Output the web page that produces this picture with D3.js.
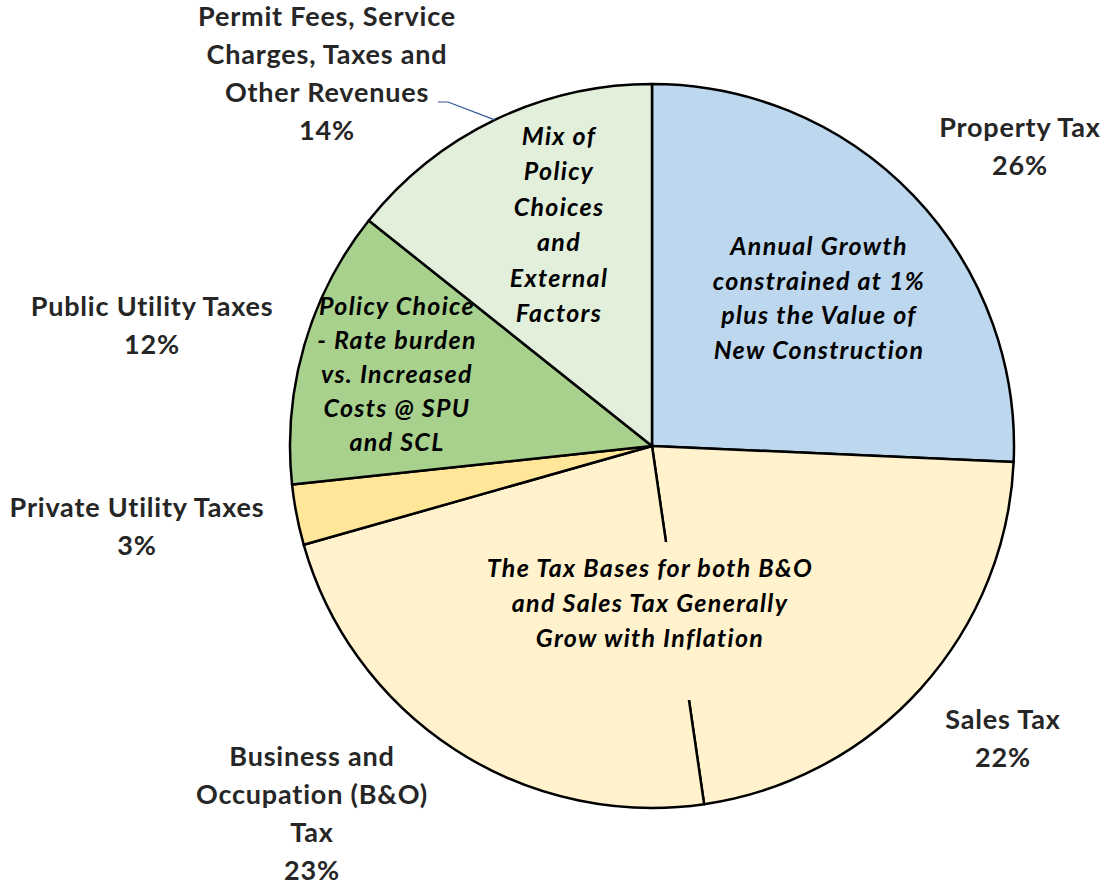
<!DOCTYPE html>
<html>
<head>
<meta charset="utf-8">
<script src="https://cdn.jsdelivr.net/npm/d3@7"></script>
<style>
  body { margin: 0; background: #fff; }
  svg { display: block; }
  text { font-family: Lato, "Open Sans", sans-serif; font-weight: 900; fill: #262626; }
  .outer { font-weight: bold; letter-spacing: 0.8px; }
  .inner { font-style: italic; font-weight: bold; fill: #000; letter-spacing: 1.3px; }
</style>
</head>
<body>
<div id="chart"></div>
<script>
// slice data (clockwise from 12 o'clock)
var categories = ["Property Tax", "Sales Tax", "Business and Occupation (B&O) Tax",
                  "Private Utility Taxes", "Public Utility Taxes",
                  "Permit Fees, Service Charges, Taxes and Other Revenues"];
var values = [25.7, 22.0, 22.9, 2.7, 12.4, 14.3];
var colors = ["#BDD7EE", "#FFF2CC", "#FFF2CC", "#FFE699", "#A9D18E", "#E2EFDA"];

// outside label lines
var labelLines = [
  ["Property Tax"],
  ["Sales Tax"],
  ["Business and", "Occupation (B&O)", "Tax"],
  ["Private Utility Taxes"],
  ["Public Utility Taxes"],
  ["Permit Fees, Service", "Charges, Taxes and", "Other Revenues"]
];

// notes written inside the slices
var notes = [
  ["Annual Growth", "constrained at 1%", "plus the Value of", "New Construction"],
  ["The Tax Bases for both B&O", "and Sales Tax Generally", "Grow with Inflation"],
  ["Policy Choice", "- Rate burden", "vs. Increased", "Costs @ SPU", "and SCL"],
  ["Mix of", "Policy", "Choices", "and", "External", "Factors"]
];

var width = 1108, height = 886;
var cx = 652, cy = 446, radius = 362;

var svg = d3.select("#chart").append("svg")
  .attr("width", width)
  .attr("height", height);

var pie = d3.pie().sort(null).value(function(d) { return d; });
var arcs = pie(values);
var arc = d3.arc().innerRadius(0).outerRadius(radius);
var total = d3.sum(values);
var pct = d3.format(".0%");

var g = svg.append("g").attr("transform", "translate(" + cx + "," + cy + ")");

g.selectAll("path")
  .data(arcs)
  .enter()
  .append("path")
  .attr("d", arc)
  .attr("fill", function(d, i) { return colors[i]; })
  .attr("stroke", "#000")
  .attr("stroke-width", 2.5)
  .attr("stroke-linejoin", "round");

// outside label anchors: [center x, first baseline y]
var labelPos = [
  [1020, 137],
  [1003, 729],
  [312, 766],
  [137, 517],
  [152, 316],
  [327, 26]
];
var lineH = 38;

labelLines.forEach(function(lines, i) {
  var t = svg.append("text")
    .attr("class", "outer")
    .attr("text-anchor", "middle")
    .attr("font-size", 27);
  lines.concat([pct(values[i] / total)]).forEach(function(s, k) {
    t.append("tspan")
      .attr("x", labelPos[i][0])
      .attr("y", labelPos[i][1] + k * lineH)
      .text(s);
  });
});

// leader line for the permit fees label, ending on the slice edge
var permit = arcs[5];
var edgeAngle = permit.startAngle + (permit.endAngle - permit.startAngle) * 0.5;
var edge = [cx + radius * Math.sin(edgeAngle), cy - radius * Math.cos(edgeAngle)];
svg.append("polyline")
  .attr("points", [[438, 102], [448, 102], edge].join(" "))
  .attr("fill", "none")
  .attr("stroke", "#2F5597")
  .attr("stroke-width", 1.2);

// background box for the sales / B&O note (hides the boundary there)
svg.append("rect")
  .attr("x", 470).attr("y", 542)
  .attr("width", 360).attr("height", 158)
  .attr("fill", colors[1]);

// inner notes: [center x, first baseline y, line step]
var notePos = [
  [819, 255, 34.5],
  [650, 577, 35],
  [397, 315, 34],
  [559, 145, 35.4]
];

notes.forEach(function(lines, i) {
  var t = svg.append("text")
    .attr("class", "inner")
    .attr("text-anchor", "middle")
    .attr("font-size", 25);
  lines.forEach(function(s, k) {
    t.append("tspan")
      .attr("x", notePos[i][0])
      .attr("y", notePos[i][1] + k * notePos[i][2])
      .text(s);
  });
});
</script>
</body>
</html>
